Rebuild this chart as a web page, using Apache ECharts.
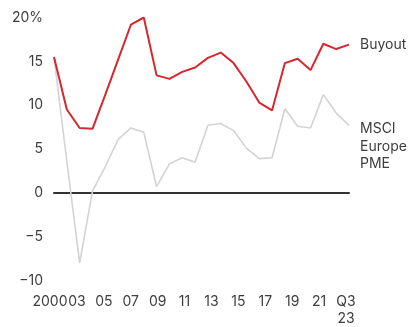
<!DOCTYPE html>
<html>
<head>
<meta charset="utf-8">
<script src="https://cdn.jsdelivr.net/npm/echarts@6/dist/echarts.min.js"></script>
<style>
  html, body { margin: 0; padding: 0; background: #fff; }
  #chart { width: 411px; height: 327px; }
</style>
</head>
<body>
<div id="chart"></div>
<script>
// Annual returns (%), 2000 through Q3 2023
const years = ['2000','2001','2002','2003','2004','2005','2006','2007','2008','2009','2010','2011',
               '2012','2013','2014','2015','2016','2017','2018','2019','2020','2021','2022','Q3 2023'];
const buyout = [15.5, 9.5, 7.4, 7.3, 11.2, 15.2, 19.2, 20.0, 13.4, 13.0, 13.8, 14.3,
                15.4, 16.0, 14.8, 12.7, 10.3, 9.4, 14.8, 15.3, 14.0, 17.0, 16.4, 16.9];
const msciEuropePme = [15.5, 3.6, -8.0, 0.2, 3.0, 6.1, 7.4, 6.9, 0.7, 3.3, 4.0, 3.5,
                       7.7, 7.9, 7.1, 5.1, 3.9, 4.0, 9.6, 7.6, 7.4, 11.2, 9.1, 7.7];
const xTickLabels = ['2000','03','05','07','09','11','13','15','17','19','21','Q3\n23'];
const yTicks = [-10, -5, 0, 5, 10, 15, 20];

const textColor = '#3d3d3d';
const font = 'Inter';

const chart = echarts.init(document.getElementById('chart'), null, { renderer: 'canvas' });

chart.setOption({
  animation: false,
  backgroundColor: '#fff',
  textStyle: { fontFamily: font },
  grid: [
    { left: 54, right: 62, top: 17.5, bottom: 46.5 },
    { left: 50, right: 65, top: 17.5, bottom: 46.5 }
  ],
  xAxis: [
    {
      type: 'category',
      gridIndex: 0,
      data: years,
      boundaryGap: false,
      axisLine: { show: true, onZero: true, lineStyle: { color: '#333', width: 2 } },
      axisTick: { show: false },
      axisLabel: { show: false },
      splitLine: { show: false }
    },
    {
      type: 'category',
      gridIndex: 1,
      position: 'bottom',
      data: xTickLabels,
      boundaryGap: false,
      axisLine: { show: false, onZero: false },
      axisTick: { show: false },
      axisLabel: {
        interval: 0,
        margin: 17,
        color: textColor,
        fontFamily: font,
        fontSize: 14,
        lineHeight: 17
      },
      splitLine: { show: false }
    }
  ],
  yAxis: [
    {
      type: 'value',
      gridIndex: 0,
      min: yTicks[0],
      max: yTicks[yTicks.length - 1],
      interval: 5,
      axisLine: { show: false },
      axisTick: { show: false },
      splitLine: { show: false },
      axisLabel: {
        margin: 11,
        color: textColor,
        fontFamily: font,
        fontSize: 14,
        formatter: v => v === 20 ? '20%' : (v < 0 ? '\u2212' + Math.abs(v) : String(v))
      }
    },
    {
      type: 'value',
      gridIndex: 1,
      min: yTicks[0],
      max: yTicks[yTicks.length - 1],
      show: false
    }
  ],
  series: [
    {
      name: 'MSCI Europe PME',
      type: 'line',
      xAxisIndex: 0,
      yAxisIndex: 0,
      data: msciEuropePme,
      symbol: 'none',
      lineStyle: { color: '#d3d3d3', width: 1.6 },
      endLabel: {
        show: true,
        formatter: 'MSCI\nEurope\nPME',
        color: textColor,
        fontFamily: font,
        fontSize: 14,
        lineHeight: 17.5,
        distance: 11,
        verticalAlign: 'top',
        offset: [0, -5]
      },
      z: 2
    },
    {
      name: 'Buyout',
      type: 'line',
      xAxisIndex: 0,
      yAxisIndex: 0,
      data: buyout,
      symbol: 'none',
      lineStyle: { color: '#d8262e', width: 2 },
      endLabel: {
        show: true,
        formatter: 'Buyout',
        color: textColor,
        fontFamily: font,
        fontSize: 14,
        distance: 11
      },
      z: 3
    }
  ]
});
</script>
</body>
</html>
